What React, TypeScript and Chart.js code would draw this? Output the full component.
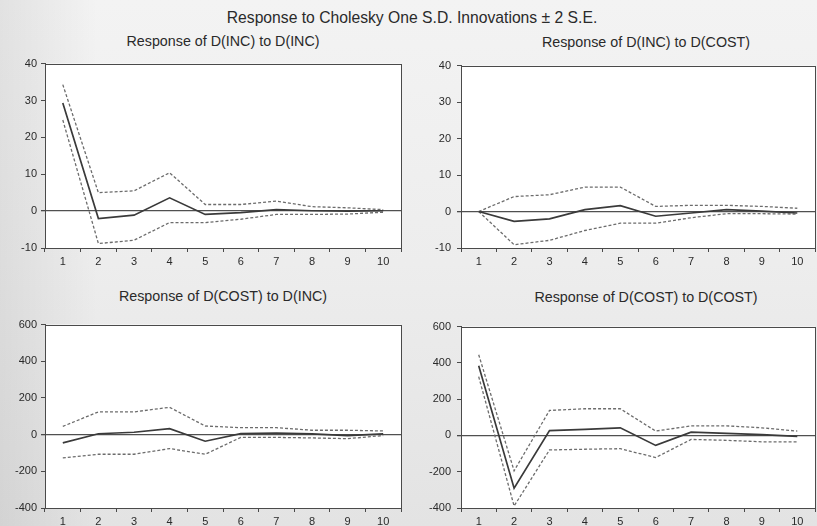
import React, { useEffect, useRef } from "react";
import { Chart, registerables } from "chart.js";

Chart.register(...registerables);

const MAIN_TITLE = "Response to Cholesky One S.D. Innovations \u00B1 2 S.E.";
const PERIODS = ["1", "2", "3", "4", "5", "6", "7", "8", "9", "10"];

const TITLE_INC_INC = "Response of D(INC) to D(INC)";
const INC_INC = [29.3, -2.0, -1.1, 3.6, -0.9, -0.4, 0.4, 0.1, 0.0, 0.1];
const INC_INC_UP = [34.3, 5.0, 5.5, 10.4, 1.8, 1.8, 2.7, 1.2, 0.9, 0.4];
const INC_INC_LO = [24.7, -8.8, -7.9, -3.1, -3.1, -2.2, -0.9, -0.9, -0.8, -0.3];

const TITLE_INC_COST = "Response of D(INC) to D(COST)";
const INC_COST = [0, -2.7, -2.0, 0.5, 1.6, -1.3, -0.4, 0.5, 0.1, -0.4];
const INC_COST_UP = [0, 4.1, 4.6, 6.7, 6.7, 1.4, 1.7, 1.7, 1.4, 0.9];
const INC_COST_LO = [0, -9.1, -7.9, -5.2, -3.2, -3.2, -1.7, -0.6, -0.6, -0.7];

const TITLE_COST_INC = "Response of D(COST) to D(INC)";
const COST_INC = [-45, 5, 13, 33, -36, 5, 9, 4, -5, 4];
const COST_INC_UP = [45, 124, 124, 149, 47, 38, 38, 24, 24, 20];
const COST_INC_LO = [-127, -107, -107, -76, -107, -15, -15, -18, -22, -5];

const TITLE_COST_COST = "Response of D(COST) to D(COST)";
const COST_COST = [384, -291, 27, 33, 42, -55, 18, 11, 5, -5];
const COST_COST_UP = [445, -195, 138, 147, 147, 24, 53, 53, 42, 24];
const COST_COST_LO = [324, -389, -80, -76, -73, -122, -22, -27, -35, -36];

const SMALL_RANGE = { min: -10, max: 40, step: 10 };
const LARGE_RANGE = { min: -400, max: 600, step: 200 };

const FONT = "'Liberation Sans', Arial, sans-serif";
const AXIS_COLOR = "#4a4a4a";

const boxPlugin = {
  id: "plotBox",
  beforeDraw(chart: any) {
    const { ctx, chartArea } = chart;
    ctx.save();
    ctx.fillStyle = "#ffffff";
    ctx.fillRect(chartArea.left, chartArea.top, chartArea.right - chartArea.left, chartArea.bottom - chartArea.top);
    ctx.restore();
  },
  afterDraw(chart: any) {
    const { ctx, chartArea } = chart;
    ctx.save();
    ctx.strokeStyle = AXIS_COLOR;
    ctx.lineWidth = 1;
    ctx.strokeRect(
      Math.round(chartArea.left) + 0.5,
      Math.round(chartArea.top) + 0.5,
      Math.round(chartArea.right - chartArea.left),
      Math.round(chartArea.bottom - chartArea.top)
    );
    ctx.restore();
  },
};

type PanelProps = {
  left: number;
  top: number;
  width: number;
  height: number;
  yAxisWidth: number;
  padTop: number;
  padRight: number;
  xAxisHeight: number;
  labelPad: number;
  range: { min: number; max: number; step: number };
  mid: number[];
  up: number[];
  lo: number[];
};

function Panel(p: PanelProps) {
  const ref = useRef<HTMLCanvasElement | null>(null);
  useEffect(() => {
    if (!ref.current) return;
    const dashed = (data: number[]) => ({
      data,
      borderColor: "#6c6c6c",
      borderWidth: 1.3,
      borderDash: [3, 2],
      pointRadius: 0,
      tension: 0,
      fill: false,
    });
    const chart = new Chart(ref.current, {
      type: "line",
      data: {
        labels: PERIODS,
        datasets: [
          {
            data: p.mid,
            borderColor: "#3a3a3a",
            borderWidth: 1.7,
            pointRadius: 0,
            tension: 0,
            fill: false,
          },
          dashed(p.up),
          dashed(p.lo),
        ],
      },
      options: {
        animation: false,
        responsive: false,
        maintainAspectRatio: false,
        devicePixelRatio: 1,
        layout: { padding: { top: p.padTop, right: p.padRight, left: 0, bottom: 0 } },
        plugins: { legend: { display: false }, tooltip: { enabled: false }, title: { display: false } },
        scales: {
          x: {
            type: "category",
            offset: true,
            grid: {
              offset: true,
              display: true,
              drawOnChartArea: false,
              color: AXIS_COLOR,
              tickColor: AXIS_COLOR,
              tickLength: 4,
            },
            border: { display: true, color: AXIS_COLOR },
            ticks: {
              color: "#2a2a2a",
              font: { family: FONT, size: 11 },
              padding: 3,
              maxRotation: 0,
              autoSkip: false,
            },
            afterFit: (scale: any) => {
              scale.height = p.xAxisHeight;
            },
          },
          y: {
            type: "linear",
            min: p.range.min,
            max: p.range.max,
            grid: {
              display: true,
              drawOnChartArea: true,
              color: (ctx: any) => (ctx.tick && ctx.tick.value === 0 ? "#505050" : "rgba(0,0,0,0)"),
              lineWidth: (ctx: any) => (ctx.tick && ctx.tick.value === 0 ? 1.3 : 1),
              tickColor: AXIS_COLOR,
              tickLength: 4,
            },
            border: { display: true, color: AXIS_COLOR },
            ticks: {
              stepSize: p.range.step,
              color: "#2a2a2a",
              font: { family: FONT, size: 11 },
              padding: p.labelPad,
            },
            afterFit: (scale: any) => {
              scale.width = p.yAxisWidth;
            },
          },
        },
      },
      plugins: [boxPlugin],
    } as any);
    return () => chart.destroy();
  }, []);
  return (
    <canvas
      ref={ref}
      width={p.width}
      height={p.height}
      style={{ position: "absolute", left: p.left, top: p.top, width: p.width, height: p.height }}
    />
  );
}

function Label(props: { text: string; cx: number; capCenter: number; size: number }) {
  return (
    <div
      style={{
        position: "absolute",
        left: props.cx - 250,
        width: 500,
        top: props.capCenter - props.size / 2,
        fontFamily: FONT,
        fontSize: props.size,
        lineHeight: 1,
        textAlign: "center",
        color: "#2a2a2a",
        whiteSpace: "nowrap",
      }}
    >
      {props.text}
    </div>
  );
}

export default function App() {
  return (
    <div
      style={{
        position: "fixed",
        left: 0,
        top: 0,
        width: 817,
        height: 526,
        overflow: "hidden",
        background:
          "linear-gradient(to right, rgba(0,0,0,0.07) 0%, rgba(0,0,0,0) 12%), linear-gradient(to bottom, #f3f3f3 0%, #ededed 50%, #e3e3e3 100%)",
      }}
    >
      <Label text={MAIN_TITLE} cx={412} capCenter={17.5} size={15.7} />
      <Label text={TITLE_INC_INC} cx={223} capCenter={41} size={14.3} />
      <Label text={TITLE_INC_COST} cx={646} capCenter={42} size={14.3} />
      <Label text={TITLE_COST_INC} cx={223} capCenter={296} size={14.3} />
      <Label text={TITLE_COST_COST} cx={646} capCenter={297} size={14.3} />
      <Panel
        left={0} top={53} width={410} height={223}
        yAxisWidth={45} padTop={8} padRight={9} xAxisHeight={28} labelPad={4}
        range={SMALL_RANGE} mid={INC_INC} up={INC_INC_UP} lo={INC_INC_LO}
      />
      <Panel
        left={410} top={53} width={407} height={223}
        yAxisWidth={51} padTop={8} padRight={2} xAxisHeight={28} labelPad={6}
        range={SMALL_RANGE} mid={INC_COST} up={INC_COST_UP} lo={INC_COST_LO}
      />
      <Panel
        left={0} top={314} width={410} height={222}
        yAxisWidth={45} padTop={8} padRight={9} xAxisHeight={28} labelPad={4}
        range={LARGE_RANGE} mid={COST_INC} up={COST_INC_UP} lo={COST_INC_LO}
      />
      <Panel
        left={410} top={314} width={407} height={222}
        yAxisWidth={51} padTop={8} padRight={2} xAxisHeight={28} labelPad={6}
        range={LARGE_RANGE} mid={COST_COST} up={COST_COST_UP} lo={COST_COST_LO}
      />
    </div>
  );
}
